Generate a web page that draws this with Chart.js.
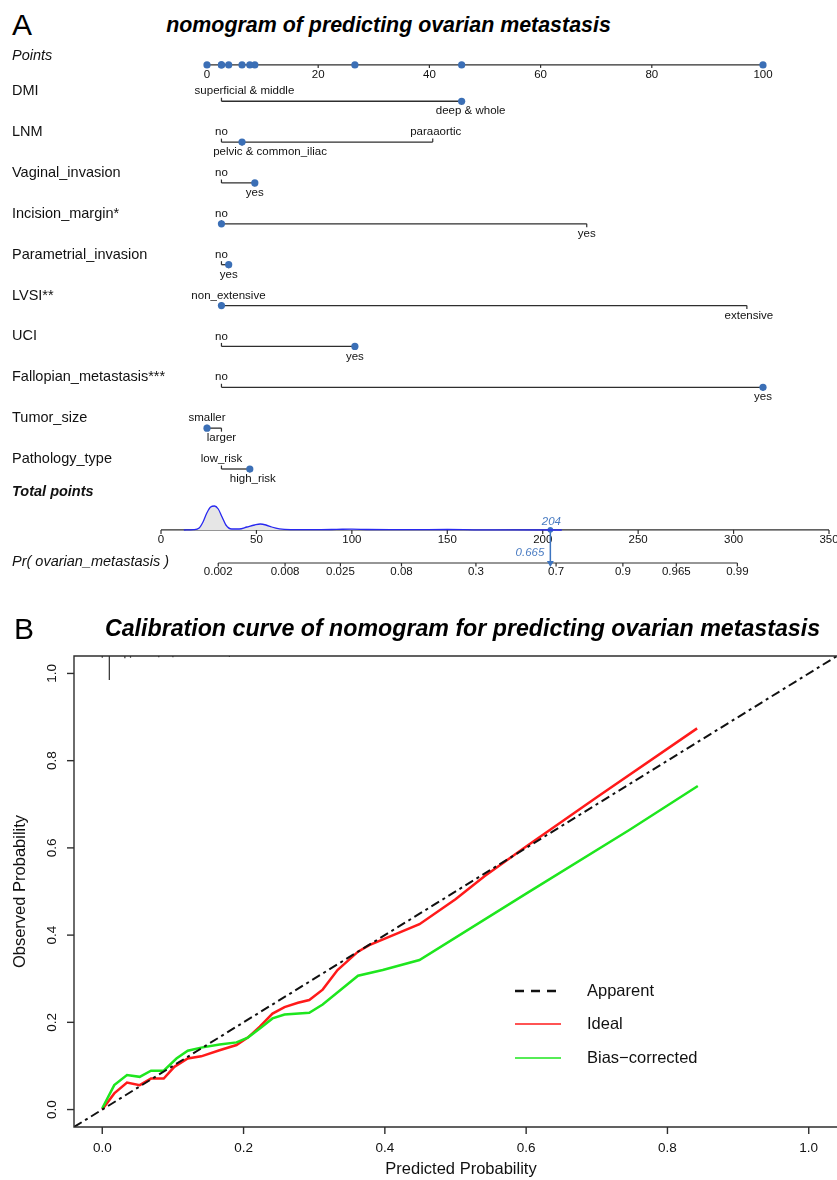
<!DOCTYPE html>
<html>
<head>
<meta charset="utf-8">
<script src="https://cdn.jsdelivr.net/npm/chart.js@4/dist/chart.umd.min.js"></script>
<style>
body{margin:0;background:#fff;width:837px;height:1180px;position:relative;overflow:hidden;font-family:"Liberation Sans",Arial,sans-serif;}
.t{position:absolute;white-space:nowrap;color:#000;}
#cA{position:absolute;left:0;top:0;}
#cB{position:absolute;left:0;top:600px;}
</style>
</head>
<body>
<div class="t" style="left:12px;top:10px;font-size:30px;line-height:30px;">A</div>
<div class="t" style="left:0;width:777px;top:15px;text-align:center;font-size:21.4px;line-height:21.4px;font-weight:bold;font-style:italic;">nomogram of predicting ovarian metastasis</div>
<canvas id="cA" width="837" height="600"></canvas>
<canvas id="cB" width="837" height="580"></canvas>
<div class="t" style="left:14px;top:614px;font-size:30px;line-height:30px;">B</div>
<div class="t" style="left:0;width:925px;top:617px;text-align:center;font-size:23.2px;line-height:23.2px;font-weight:bold;font-style:italic;">Calibration curve of nomogram for predicting ovarian metastasis</div>
<script>
// ---------- nomogram data ----------
const pointTicks = [0, 20, 40, 60, 80, 100];
const totalTicks = [0, 50, 100, 150, 200, 250, 300, 350];
const probLabels = ['0.002', '0.008', '0.025', '0.08', '0.3', '0.7', '0.9', '0.965', '0.99'];
const probAtTotal = [30, 65, 94, 126, 165, 207, 242, 270, 302];

const variables = ['DMI', 'LNM', 'Vaginal_invasion', 'Incision_margin*', 'Parametrial_invasion',
  'LVSI**', 'UCI', 'Fallopian_metastasis***', 'Tumor_size', 'Pathology_type'];
const levelNames = [
  ['superficial & middle', 'deep & whole'],
  ['no', 'pelvic & common_iliac', 'paraaortic'],
  ['no', 'yes'],
  ['no', 'yes'],
  ['no', 'yes'],
  ['non_extensive', 'extensive'],
  ['no', 'yes'],
  ['no', 'yes'],
  ['smaller', 'larger'],
  ['low_risk', 'high_risk']
];
const levelPoints = [
  [2.6, 45.8],
  [2.6, 6.3, 40.6],
  [2.6, 8.6],
  [2.6, 68.3],
  [2.6, 3.9],
  [2.6, 97.1],
  [2.6, 26.6],
  [2.6, 100],
  [0, 2.6],
  [2.6, 7.7]
];
const patientLevel = ['deep & whole', 'pelvic & common_iliac', 'yes', 'no', 'yes',
  'non_extensive', 'yes', 'yes', 'smaller', 'high_risk'];
const patientTotal = 204;
const patientProb = '0.665';

// density of total points (relative height)
const densityTotal = [12, 17, 20, 22, 24, 26, 28, 30, 32, 34, 37, 41, 45, 49, 52, 55, 58, 62, 68, 80, 92, 100, 108, 120, 135, 150, 165, 185, 210];
const densityHeight = [0, 0.3, 2, 8, 17, 23, 24, 21, 13, 5, 1, 1, 3, 5, 6, 5, 3, 1.2, 0.4, 0.3, 0.6, 0.9, 0.5, 0.3, 0.4, 0.5, 0.2, 0.1, 0];

// ---------- calibration data ----------
const calTicks = [0, 0.2, 0.4, 0.6, 0.8, 1.0];
const apparentX = [-0.04, 1.04];
const apparentY = [-0.04, 1.04];
const idealX = [0, 0.017, 0.035, 0.053, 0.069, 0.087, 0.102, 0.121, 0.140, 0.166, 0.190, 0.206, 0.223, 0.241,
  0.258, 0.277, 0.293, 0.312, 0.333, 0.362, 0.378, 0.449, 0.500, 0.541, 0.600, 0.700, 0.842];
const idealY = [0, 0.037, 0.062, 0.056, 0.071, 0.071, 0.098, 0.117, 0.122, 0.136, 0.148, 0.165, 0.190, 0.220,
  0.235, 0.245, 0.251, 0.275, 0.320, 0.362, 0.377, 0.425, 0.482, 0.535, 0.603, 0.716, 0.874];
const biasX = [0, 0.017, 0.035, 0.053, 0.069, 0.087, 0.105, 0.121, 0.140, 0.166, 0.190, 0.206, 0.223, 0.241,
  0.258, 0.293, 0.312, 0.362, 0.397, 0.449, 0.600, 0.746, 0.843];
const biasY = [0.003, 0.056, 0.079, 0.075, 0.089, 0.089, 0.117, 0.135, 0.142, 0.149, 0.154, 0.165, 0.186, 0.209,
  0.218, 0.222, 0.241, 0.307, 0.320, 0.343, 0.495, 0.641, 0.742];
// rug of predicted probabilities along the top edge
const rugPred = [0.0, 0.01, 0.032, 0.04, 0.08, 0.1, 0.18];
const rugLength = [0.004, 0.055, 0.005, 0.004, 0.003, 0.003, 0.002];

// ---------- layout / style ----------
const FONT = '"Liberation Sans", Arial, sans-serif';
const DOT = '#3b6fb6';
const LINE = '#2e2e2e';
const ROW_POINTS = 0.11, ROW_TOTAL = 11.49, ROW_PR = 12.3;
const labelNudge = {'superficial & middle': 23, 'deep & whole': 9, 'pelvic & common_iliac': 28,
  'paraaortic': 3, 'non_extensive': 7, 'high_risk': 3, 'extensive': 2};

function seg(ctx, x1, y1, x2, y2){
  ctx.beginPath(); ctx.moveTo(x1, y1); ctx.lineTo(x2, y2); ctx.stroke();
}

// rows of the nomogram: one dataset per variable
const rowSets = variables.map((name, i) => ({
  label: name,
  data: levelPoints[i].map((p, j) => ({x: p, y: i + 1, lv: levelNames[i][j]})),
  showLine: true,
  borderColor: LINE,
  borderWidth: 1.3,
  pointRadius: levelNames[i].map(l => l === patientLevel[i] ? 3.6 : 0),
  pointBackgroundColor: DOT,
  pointBorderWidth: 0,
  xAxisID: 'x', yAxisID: 'y'
}));

const patientPoints = variables.map((n, i) => levelPoints[i][levelNames[i].indexOf(patientLevel[i])]);

const nomoPlugin = {
  id: 'nomo',
  beforeDatasetsDraw(chart){
    const {ctx, scales: {x, xt, y}} = chart;
    ctx.save();
    ctx.strokeStyle = LINE; ctx.lineWidth = 1.2; ctx.fillStyle = '#111';
    ctx.textAlign = 'center'; ctx.textBaseline = 'middle';
    ctx.font = '11.5px ' + FONT;

    // Points axis
    const py = y.getPixelForValue(ROW_POINTS);
    seg(ctx, x.getPixelForValue(pointTicks[0]), py, x.getPixelForValue(pointTicks[pointTicks.length - 1]), py);
    pointTicks.forEach(v => {
      const px = x.getPixelForValue(v);
      seg(ctx, px, py, px, py + 3);
      ctx.fillText(String(v), px, py + 9.5);
    });

    // Total points axis
    const ty = y.getPixelForValue(ROW_TOTAL);
    seg(ctx, xt.getPixelForValue(totalTicks[0]), ty, xt.getPixelForValue(totalTicks[totalTicks.length - 1]), ty);
    totalTicks.forEach(v => {
      const px = xt.getPixelForValue(v);
      seg(ctx, px, ty, px, ty + 4);
      ctx.fillText(String(v), px, ty + 9.5);
    });

    // Probability axis
    const ry = y.getPixelForValue(ROW_PR);
    seg(ctx, xt.getPixelForValue(probAtTotal[0]), ry, xt.getPixelForValue(probAtTotal[probAtTotal.length - 1]), ry);
    probAtTotal.forEach((v, k) => {
      const px = xt.getPixelForValue(v);
      seg(ctx, px, ry, px, ry + 3.5);
      ctx.fillText(probLabels[k], px, ry + 8.5);
    });

    // level ticks and labels
    variables.forEach((name, i) => {
      const vy = y.getPixelForValue(i + 1);
      levelNames[i].forEach((lv, j) => {
        const px = x.getPixelForValue(levelPoints[i][j]);
        const up = j % 2 === 0;
        seg(ctx, px, vy, px, vy + (up ? -3.5 : 3.5));
        ctx.fillText(lv, px + (labelNudge[lv] || 0), vy + (up ? -10 : 10));
      });
    });

    // row names
    ctx.textAlign = 'left';
    ctx.font = '14.5px ' + FONT;
    variables.forEach((name, i) => ctx.fillText(name, 12, y.getPixelForValue(i + 1) - 10));
    ctx.font = 'italic 14.5px ' + FONT;
    ctx.fillText('Points', 12, py - 9);
    ctx.fillText('Pr( ovarian_metastasis )', 12, ry - 1);
    ctx.font = 'italic bold 14.5px ' + FONT;
    ctx.fillText('Total points', 12, ty - 38);
    ctx.restore();
  },
  afterDatasetsDraw(chart){
    const {ctx, scales: {xt, y}} = chart;
    const px = xt.getPixelForValue(patientTotal);
    ctx.save();
    ctx.fillStyle = '#4a7cc2';
    ctx.font = 'italic 11.5px ' + FONT;
    ctx.textBaseline = 'middle';
    ctx.textAlign = 'center';
    ctx.fillText(String(patientTotal), px + 1, y.getPixelForValue(ROW_TOTAL) - 8.5);
    ctx.textAlign = 'right';
    ctx.fillText(patientProb, px - 6, y.getPixelForValue(ROW_PR) - 10);
    ctx.restore();
  }
};

new Chart(document.getElementById('cA'), {
  type: 'scatter',
  data: {
    datasets: [
      ...rowSets,
      {
        label: 'Points',
        data: patientPoints.map(p => ({x: p, y: ROW_POINTS})),
        showLine: false,
        pointRadius: 3.6,
        pointBackgroundColor: DOT,
        pointBorderWidth: 0,
        xAxisID: 'x', yAxisID: 'y'
      },
      {
        label: 'Total points density',
        data: densityTotal.map((t, k) => ({x: t, y: densityHeight[k]})),
        showLine: true,
        borderColor: '#2828f0',
        borderWidth: 1.3,
        backgroundColor: '#e6e6e6',
        fill: 'origin',
        cubicInterpolationMode: 'monotone',
        pointRadius: 0,
        xAxisID: 'xt', yAxisID: 'yd'
      },
      {
        label: 'Patient',
        data: [{x: patientTotal, y: ROW_TOTAL}, {x: patientTotal, y: ROW_PR}],
        showLine: true,
        borderColor: '#3d74c0',
        borderWidth: 1.5,
        pointRadius: [2.8, 4],
        pointStyle: ['circle', 'triangle'],
        rotation: [0, 180],
        pointBackgroundColor: '#3d74c0',
        pointBorderWidth: 0,
        xAxisID: 'xt', yAxisID: 'y'
      }
    ]
  },
  options: {
    responsive: false,
    animation: false,
    layout: {padding: 0, autoPadding: false},
    plugins: {legend: {display: false}, tooltip: {enabled: false}},
    scales: {
      x: {type: 'linear', display: false, min: -37.23, max: 113.31},
      xt: {type: 'linear', axis: 'x', display: false, min: -84.36, max: 354.19},
      y: {type: 'linear', display: false, reverse: true, min: -1.478, max: 13.206},
      yd: {type: 'linear', axis: 'y', display: false, min: -70, max: 530}
    }
  },
  plugins: [nomoPlugin]
});

// ---------- calibration chart ----------
const calPlugin = {
  id: 'calAxes',
  afterDraw(chart){
    const {ctx, chartArea: a, scales: {x, y}} = chart;
    ctx.save();
    ctx.strokeStyle = LINE; ctx.lineWidth = 1.4;
    ctx.beginPath();
    ctx.moveTo(a.right + 5, a.top); ctx.lineTo(a.left, a.top);
    ctx.lineTo(a.left, a.bottom); ctx.lineTo(a.right + 5, a.bottom);
    ctx.stroke();

    ctx.fillStyle = '#111';
    ctx.font = '13.5px ' + FONT;
    ctx.textAlign = 'center'; ctx.textBaseline = 'middle';
    calTicks.forEach(v => {
      const px = x.getPixelForValue(v);
      seg(ctx, px, a.bottom, px, a.bottom + 7);
      ctx.fillText(v.toFixed(1), px, a.bottom + 21);
      const pyy = y.getPixelForValue(v);
      seg(ctx, a.left, pyy, a.left - 7, pyy);
      ctx.save();
      ctx.translate(a.left - 22, pyy);
      ctx.rotate(-Math.PI / 2);
      ctx.fillText(v.toFixed(1), 0, 0);
      ctx.restore();
    });

    // rug
    ctx.lineWidth = 1.2;
    rugPred.forEach((p, k) => {
      const px = x.getPixelForValue(p);
      seg(ctx, px, y.getPixelForValue(1.04), px, y.getPixelForValue(1.04 - rugLength[k]));
    });

    // axis titles
    ctx.font = '16.5px ' + FONT;
    ctx.fillText('Predicted Probability', 461, a.bottom + 42);
    ctx.save();
    ctx.translate(20, (a.top + a.bottom) / 2);
    ctx.rotate(-Math.PI / 2);
    ctx.fillText('Observed Probability', 0, 0);
    ctx.restore();

    // legend
    const rows = [391, 424, 458];
    ctx.textAlign = 'left';
    chart.data.datasets.slice(0, 3).forEach((ds, k) => {
      ctx.save();
      ctx.strokeStyle = ds.borderColor;
      ctx.lineWidth = k === 0 ? 2.6 : 1.4;
      ctx.setLineDash(k === 0 ? [9, 7] : []);
      seg(ctx, 515, rows[k], 561, rows[k]);
      ctx.restore();
      ctx.fillText(ds.label, 587, rows[k]);
    });
    ctx.restore();
  }
};

new Chart(document.getElementById('cB'), {
  type: 'scatter',
  data: {
    datasets: [
      {
        label: 'Apparent',
        data: apparentX.map((v, k) => ({x: v, y: apparentY[k]})),
        showLine: true, borderColor: '#111', borderWidth: 2,
        borderDash: [9, 4, 3, 4], pointRadius: 0, order: 0
      },
      {
        label: 'Ideal',
        data: idealX.map((v, k) => ({x: v, y: idealY[k]})),
        showLine: true, borderColor: '#ff1a1a', borderWidth: 2.5, pointRadius: 0, order: 2
      },
      {
        label: 'Bias\u2212corrected',
        data: biasX.map((v, k) => ({x: v, y: biasY[k]})),
        showLine: true, borderColor: '#1ee61e', borderWidth: 2.5, pointRadius: 0, order: 1
      }
    ]
  },
  options: {
    responsive: false,
    animation: false,
    layout: {padding: {left: 74, top: 56, right: 0, bottom: 53}, autoPadding: false},
    plugins: {legend: {display: false}, tooltip: {enabled: false}},
    scales: {
      x: {type: 'linear', display: false, min: -0.04, max: 1.04},
      y: {type: 'linear', display: false, min: -0.04, max: 1.04}
    }
  },
  plugins: [calPlugin]
});
</script>
</body>
</html>
